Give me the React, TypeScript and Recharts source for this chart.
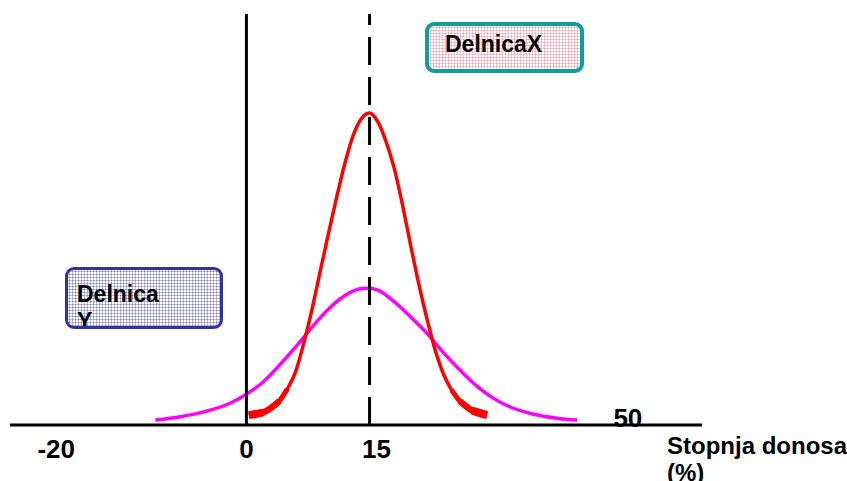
import { Line, LineChart, ReferenceLine, XAxis, YAxis } from "recharts";

// Two return distributions (x = return %, y = relative density)
const redX = [0.3, 2, 4, 5, 6, 7, 8, 9, 10, 11, 12, 13, 14, 15, 16, 17, 18, 19, 20, 21, 22, 23, 24, 25, 26, 27.5, 29.3];
const redY = [2.4, 3.0, 5.8, 8.8, 13.0, 20.0, 28.2, 37.5, 46.6, 55.5, 63.7, 70.4, 74.5, 75.9, 73.8, 69.0, 62.5, 53.7, 43.8, 34.3, 25.8, 18.2, 12.4, 8.5, 5.8, 3.5, 2.4];

const magentaX = [-11.1, -8, -5, -2, 0, 2, 4, 6, 8, 10, 12, 14, 15, 16, 18, 20, 22, 24, 26, 28, 30, 32, 35, 38, 40.3];
const magentaY = [1.2, 2.0, 3.3, 5.3, 7.5, 10.4, 14.5, 19.0, 23.8, 28.2, 31.5, 33.2, 33.3, 32.8, 30.0, 26.3, 22.3, 17.6, 13.4, 9.6, 6.6, 4.5, 2.6, 1.6, 1.2];

const tickValues = [-20, 0, 15, 50];
const meanReturn = 15;
const labelX = "DelnicaX";
const labelY = ["Delnica", "Y"];
const axisTitle = ["Stopnja donosa", "(%)"];

const red = redX.map((x, i) => ({ x, y: redY[i] }));
const magenta = magentaX.map((x, i) => ({ x, y: magentaY[i] }));

// the red curve gets heavier toward both tails, fake it with stacked segments
const tail = (left: number, right: number) =>
	red.map((p) => ({ x: p.x, y: p.x <= left || p.x >= right ? p.y : null }));

const FONT = "'Liberation Sans', Arial, sans-serif";

// tick labels were placed by hand on the slide, not centred on the values
const tickNudge: Record<number, [number, number]> = {
	[-20]: [-26, 0],
	0: [0, 0],
	15: [7, 0],
	50: [-29, -31],
};

function Tick(props: any) {
	const { x, y, payload } = props;
	const [dx, dy] = tickNudge[payload.value] ?? [0, 0];
	return (
		<text x={x + dx} y={y + dy} dy={25} textAnchor="middle" fontSize={26} fontWeight="bold" fontFamily={FONT} fill="#000">
			{payload.value}
		</text>
	);
}

const dots = (color: string) => ({
	backgroundColor: "#fff",
	backgroundImage: `radial-gradient(circle, ${color} 45%, transparent 50%)`,
	backgroundSize: "3px 3px",
});

export default function App() {
	return (
		<div style={{ position: "absolute", left: 0, top: 0, width: 847, height: 481, background: "#fff", fontFamily: FONT, overflow: "hidden" }}>
			<LineChart width={847} height={481} margin={{ top: 14, right: 145, bottom: 0, left: 10 }}>
				<XAxis
					type="number"
					dataKey="x"
					domain={[-28.8, 55.5]}
					ticks={tickValues}
					interval={0}
					tick={<Tick />}
					tickLine={false}
					axisLine={{ stroke: "#000", strokeWidth: 3 }}
					height={56}
					allowDataOverflow
				/>
				<YAxis type="number" domain={[0, 100]} hide allowDataOverflow />
				<Line data={magenta} dataKey="y" type="monotone" stroke="#ff00ff" strokeWidth={3.5} dot={false} isAnimationActive={false} />
				<Line data={red} dataKey="y" type="monotone" stroke="#ff0000" strokeWidth={3.5} dot={false} isAnimationActive={false} />
				<Line data={tail(5, 25)} dataKey="y" type="monotone" stroke="#ff0000" strokeWidth={5} dot={false} isAnimationActive={false} />
				<Line data={tail(4, 26)} dataKey="y" type="monotone" stroke="#ff0000" strokeWidth={6.5} dot={false} isAnimationActive={false} />
				<Line data={tail(2, 27.5)} dataKey="y" type="monotone" stroke="#ff0000" strokeWidth={8} dot={false} isAnimationActive={false} />
				<ReferenceLine x={0} stroke="#000" strokeWidth={3} />
				<ReferenceLine x={meanReturn} stroke="#000" strokeWidth={3} strokeDasharray="28 12" />
			</LineChart>

			<div
				style={{
					position: "absolute",
					left: 425,
					top: 22,
					width: 159,
					height: 51,
					boxSizing: "border-box",
					border: "4px solid #129d9d",
					borderRadius: 9,
					paddingLeft: 16,
					paddingTop: 5,
					fontSize: 23,
					lineHeight: "27px",
					fontWeight: "bold",
					...dots("#f2a0b0"),
				}}
			>
				{labelX}
			</div>

			<div
				style={{
					position: "absolute",
					left: 65,
					top: 267,
					width: 158,
					height: 62,
					boxSizing: "border-box",
					border: "3px solid #333399",
					borderRadius: 9,
					paddingLeft: 9,
					paddingTop: 11,
					fontSize: 23,
					lineHeight: "27px",
					fontWeight: "bold",
					overflow: "hidden",
					...dots("#8585cf"),
				}}
			>
				{labelY[0]}
				<br />
				{labelY[1]}
			</div>

			<div style={{ position: "absolute", left: 667, top: 432, fontSize: 24, lineHeight: "27px", fontWeight: "bold", whiteSpace: "nowrap" }}>
				{axisTitle[0]}
				<br />
				{axisTitle[1]}
			</div>
		</div>
	);
}
